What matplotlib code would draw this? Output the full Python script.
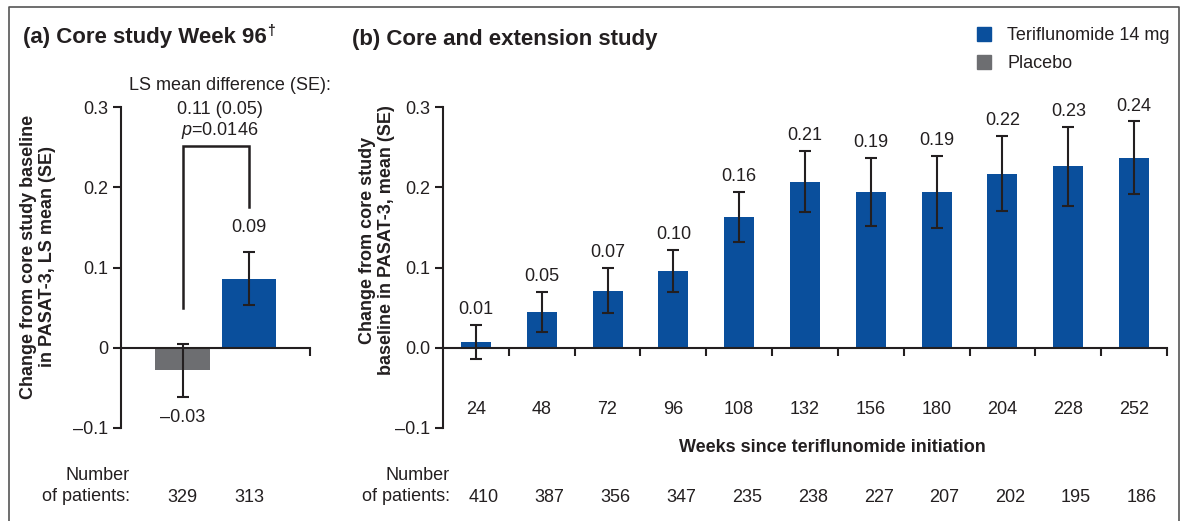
import matplotlib
matplotlib.use("Agg")
import matplotlib.pyplot as plt
from matplotlib.lines import Line2D
import numpy as np

plt.rcParams["font.family"] = ["Liberation Sans", "DejaVu Sans"]
plt.rcParams["mathtext.fontset"] = "custom"
plt.rcParams["mathtext.it"] = "Liberation Sans:italic"
plt.rcParams["mathtext.rm"] = "Liberation Sans"

# -------------------------------
# Data
# -------------------------------
core_groups = ["Placebo", "Teriflunomide 14 mg"]
core_mean = [-0.028, 0.086]
core_se = [0.033, 0.033]
core_labels = ["–0.03", "0.09"]
core_n = [329, 313]

weeks = ["24", "48", "72", "96", "108", "132", "156", "180", "204", "228", "252"]
ext_mean = [0.007, 0.045, 0.071, 0.096, 0.163, 0.207, 0.194, 0.194, 0.217, 0.226, 0.237]
ext_se = [0.021, 0.025, 0.028, 0.026, 0.031, 0.038, 0.042, 0.045, 0.047, 0.049, 0.045]
ext_labels = ["0.01", "0.05", "0.07", "0.10", "0.16", "0.21", "0.19", "0.19", "0.22", "0.23", "0.24"]
ext_n = [410, 387, 356, 347, 235, 238, 227, 207, 202, 195, 186]

BLUE = "#0A4F9C"
GRAY = "#6D6E71"
INK = "#231F20"
FS = 13
BFS = 13
N_ROW_Y = -0.186  # data-y of the "Number of patients" row

fig = plt.figure(figsize=(11.88, 5.21), dpi=100)
W, H = 1188, 521


def px_axes(x0, x1, y0, y1):
    return fig.add_axes([x0 / W, 1 - y1 / H, (x1 - x0) / W, (y1 - y0) / H])


def style_axes(ax):
    for s in ["top", "right"]:
        ax.spines[s].set_visible(False)
    ax.spines["bottom"].set_position(("data", 0))
    for s in ["left", "bottom"]:
        ax.spines[s].set_linewidth(1.5)
        ax.spines[s].set_color(INK)
    ax.set_ylim(-0.1, 0.3)
    ax.set_yticks([-0.1, 0, 0.1, 0.2, 0.3])
    ax.tick_params(axis="y", direction="out", length=6, width=1.5, color=INK,
                   labelsize=FS, labelcolor=INK, pad=3)
    ax.tick_params(axis="x", direction="out", length=6, width=1.5, color=INK,
                   labelbottom=False)
    ax.patch.set_visible(False)


# -------------------------------
# (a) Core study Week 96
# -------------------------------
axa = px_axes(121, 310, 107, 428)
style_axes(axa)
xa = np.arange(len(core_groups))
axa.set_xlim(-0.925, 1.917)
axa.set_xticks([1.917])
axa.set_yticklabels(["–0.1", "0", "0.1", "0.2", "0.3"])
axa.bar(xa, core_mean, width=0.82, color=[GRAY, BLUE], zorder=2)
axa.errorbar(xa, core_mean, yerr=core_se, fmt="none", ecolor=INK,
             elinewidth=1.5, capsize=4, capthick=1.5, zorder=3)
for x, m, s, lab in zip(xa, core_mean, core_se, core_labels):
    if m >= 0:
        axa.annotate(lab, (x, m + s), xytext=(0, 12), textcoords="offset points",
                     ha="center", va="bottom", fontsize=FS, color=INK)
    else:
        axa.annotate(lab, (x, m - s), xytext=(0, -9), textcoords="offset points",
                     ha="center", va="top", fontsize=FS, color=INK)

# significance bracket
axa.plot([0, 0, 1, 1], [0.05, 0.251, 0.251, 0.176], color=INK, lw=1.8,
         clip_on=False, solid_joinstyle="miter")
axa.text(0.72, 0.327, "LS mean difference (SE):", ha="center", va="center",
         fontsize=FS, color=INK, clip_on=False)
axa.text(0.56, 0.297, "0.11 (0.05)", ha="center", va="center", fontsize=FS,
         color=INK, clip_on=False)
axa.text(0.56, 0.271, r"$p$=0.0146", ha="center", va="center", fontsize=FS,
         color=INK, clip_on=False)

fig.text(23 / W, 1 - 38 / H, "(a) Core study Week 96", fontsize=16,
         fontweight="bold", ha="left", va="center", color=INK)
fig.text(267 / W, 1 - 31 / H, "†", fontsize=10, fontweight="bold",
         ha="left", va="center", color=INK)
fig.text(38 / W, 1 - 257 / H, "Change from core study baseline\nin PASAT-3, LS mean (SE)",
         rotation=90, ha="center", va="center", fontsize=BFS, fontweight="bold",
         color=INK, linespacing=1.1)

fig.text(130 / W, 1 - 486 / H, "Number\nof patients:", ha="right", va="center",
         fontsize=FS, color=INK, linespacing=1.3)
for x, n in zip(xa, core_n):
    axa.text(x, N_ROW_Y, str(n), ha="center", va="center", fontsize=FS,
             color=INK, clip_on=False)

# -------------------------------
# (b) Core and extension study
# -------------------------------
axb = px_axes(443, 1167, 107, 428)
style_axes(axb)
xb = np.arange(len(weeks))
axb.set_xlim(-0.5, len(weeks) - 0.5)
axb.set_xticks(xb + 0.5)
axb.set_yticklabels(["–0.1", "0.0", "0.1", "0.2", "0.3"])
axb.bar(xb, ext_mean, width=0.455, color=BLUE, zorder=2)
axb.errorbar(xb, ext_mean, yerr=ext_se, fmt="none", ecolor=INK,
             elinewidth=1.5, capsize=4, capthick=1.5, zorder=3)
for x, m, s, lab in zip(xb, ext_mean, ext_se, ext_labels):
    axb.annotate(lab, (x, m + s), xytext=(0, 5), textcoords="offset points",
                 ha="center", va="bottom", fontsize=FS, color=INK)
for x, w in zip(xb, weeks):
    axb.text(x, -0.077, w, ha="center", va="center", fontsize=FS, color=INK)
for x, n in zip(xb, ext_n):
    axb.text(x + 0.12, N_ROW_Y, str(n), ha="center", va="center", fontsize=FS,
             color=INK, clip_on=False)

fig.text(352 / W, 1 - 39 / H, "(b) Core and extension study", fontsize=16,
         fontweight="bold", ha="left", va="center", color=INK)
fig.text(377 / W, 1 - 240 / H, "Change from core study\nbaseline in PASAT-3, mean (SE)",
         rotation=90, ha="center", va="center", fontsize=BFS, fontweight="bold",
         color=INK, linespacing=1.1)
fig.text(832 / W, 1 - 447 / H, "Weeks since teriflunomide initiation", ha="center",
         va="center", fontsize=BFS, fontweight="bold", color=INK)
fig.text(450 / W, 1 - 486 / H, "Number\nof patients:", ha="right", va="center",
         fontsize=FS, color=INK, linespacing=1.3)

# legend
handles = [Line2D([], [], marker="s", ls="none", color=BLUE, markersize=9.5),
           Line2D([], [], marker="s", ls="none", color=GRAY, markersize=9.5)]
fig.legend(handles, ["Teriflunomide 14 mg", "Placebo"], loc="upper left",
           bbox_to_anchor=(962 / W, 1 - 20 / H), frameon=False, fontsize=FS,
           handletextpad=0.5, handlelength=1.6, labelspacing=0.6, borderaxespad=0,
           labelcolor=INK)

# border (left, top, right)
fig.add_artist(Line2D([9 / W, 9 / W, 1179 / W, 1179 / W], [0, 1 - 7 / H, 1 - 7 / H, 0],
                      transform=fig.transFigure, color="#555555", lw=1.2))

fig.savefig("out.png", dpi=100)
